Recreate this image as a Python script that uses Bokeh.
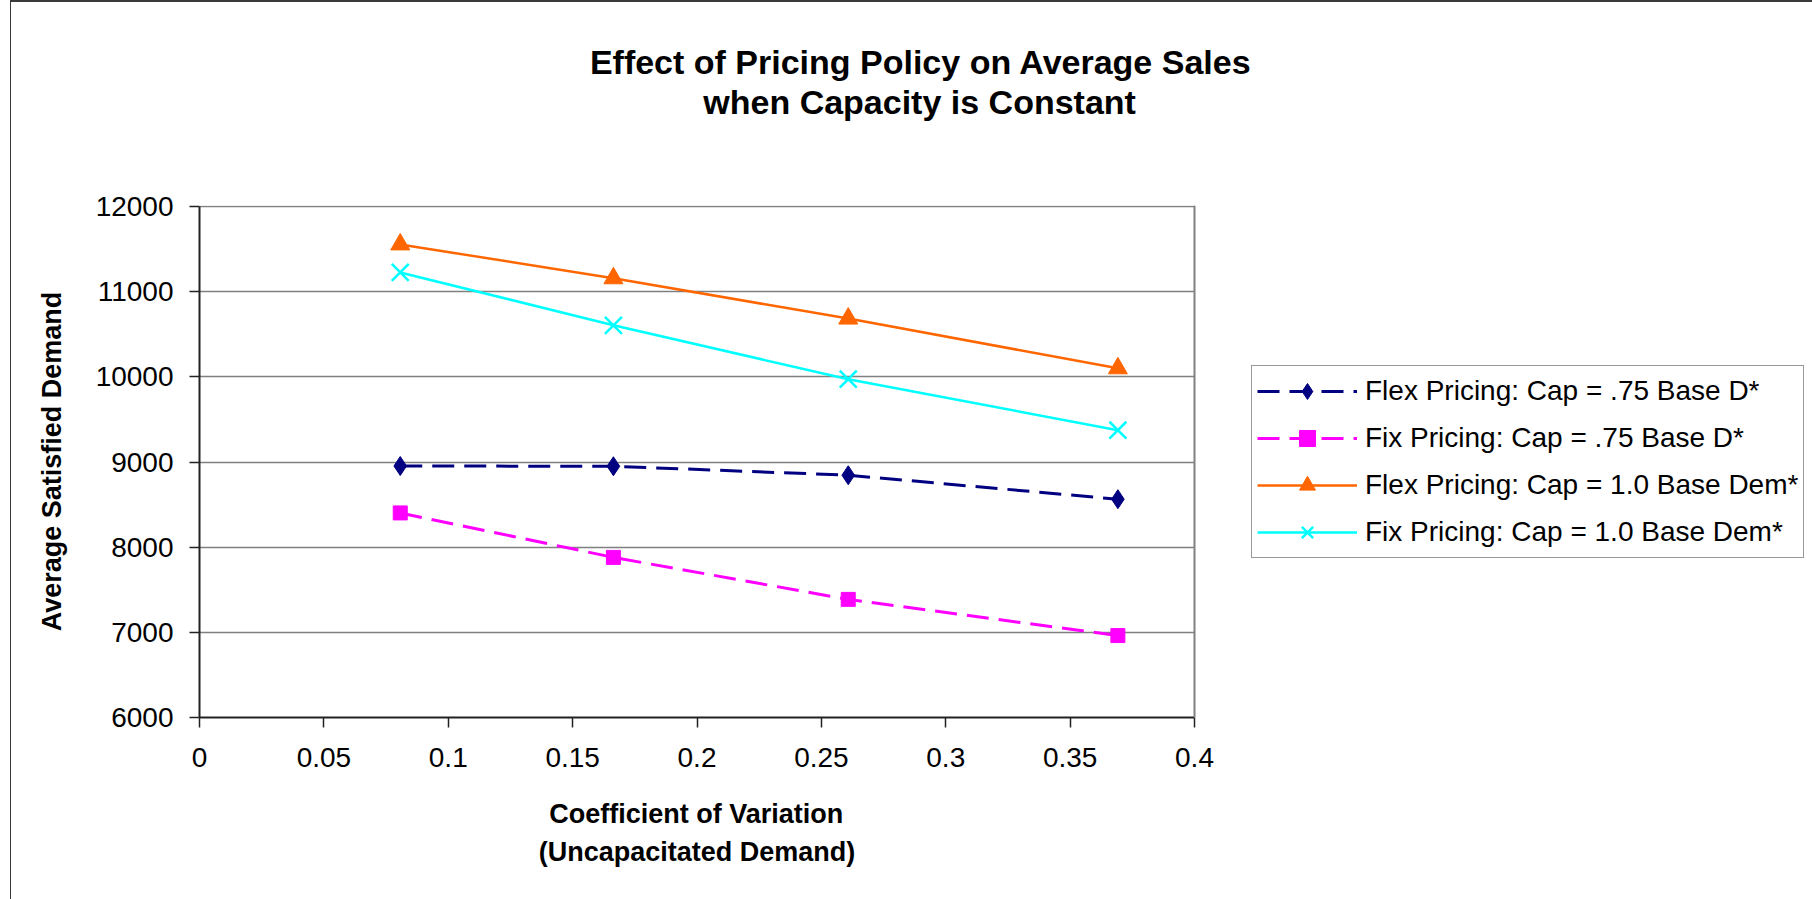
import math

from bokeh.plotting import figure
from bokeh.models import (Range1d, FixedTicker, Legend, LegendItem, Title,
                          Span, InlineStyleSheet)
from bokeh.embed import file_html
from bokeh.resources import INLINE

# ---- data -------------------------------------------------------------
cv = [0.0807, 0.1664, 0.2608, 0.3692]          # coefficient of variation

flex_075 = [8953, 8950, 8845, 8563]             # Flex Pricing, Cap = .75 Base D
fix_075 = [8402, 7880, 7387, 6962]              # Fix Pricing,  Cap = .75 Base D
flex_100 = [11555, 11157, 10684, 10100]         # Flex Pricing, Cap = 1.0 Base Dem
fix_100 = [11226, 10605, 9972, 9373]            # Fix Pricing,  Cap = 1.0 Base Dem

series_names = [
    "Flex Pricing: Cap = .75 Base D*",
    "Fix Pricing: Cap = .75 Base D*",
    "Flex Pricing: Cap = 1.0 Base Dem*",
    "Fix Pricing: Cap = 1.0 Base Dem*",
]

x_ticks = [0, 0.05, 0.1, 0.15, 0.2, 0.25, 0.3, 0.35, 0.4]
x_tick_labels = ["0", "0.05", "0.1", "0.15", "0.2", "0.25", "0.3", "0.35", "0.4"]
y_ticks = [6000, 7000, 8000, 9000, 10000, 11000, 12000]
y_tick_labels = ["6000", "7000", "8000", "9000", "10000", "11000", "12000"]

title_lines = ["Effect of Pricing Policy on Average Sales",
               "when Capacity is Constant"]
x_title_lines = ["Coefficient of Variation", "(Uncapacitated Demand)"]
y_title = "Average Satisfied Demand"

X_MIN, X_MAX = 0.0, 0.4
Y_MIN, Y_MAX = 6000, 12000

# ---- page geometry ----------------------------------------------------
W, H = 1812, 899
PL, PR, PT, PB = 199, 1194, 206, 717   # plot area edges (px from top-left)
FT = PT - 1                            # frame top: 1px of headroom for the top rule

FONT = "Liberation Sans"
TITLE_PX = 34
AXIS_TITLE_PX = 27
TITLE_CENTER = 921                     # horizontal centre of the chart title

# The frame runs to the right edge of the page so the legend can sit inside
# it; the scales are chosen so that X_MAX / Y_MAX land on the plot-area edges.
x_end = X_MIN + (X_MAX - X_MIN) * (W - PL) / (PR - PL)
y_end = Y_MIN + (Y_MAX - Y_MIN) * (PB - FT) / (PB - PT)

p = figure(width=W, height=H, output_backend="svg", toolbar_location=None,
           x_range=Range1d(X_MIN, x_end), y_range=Range1d(Y_MIN, y_end),
           min_border_left=PL, min_border_right=0,
           min_border_top=FT, min_border_bottom=H - PB)

p.background_fill_color = "white"
p.border_fill_color = "white"
p.outline_line_color = None

# thin rule along the top and left edge of the chart area
p.stylesheets = [InlineStyleSheet(css="""
:host { position: relative; }
:host::after {
  content: ""; position: absolute; left: 10px; top: 0px; right: 0px; bottom: 0px;
  border-top: 2px solid #3a3a3a; border-left: 1.5px solid #3a3a3a;
  pointer-events: none;
}
""")]

# axes
p.xaxis.ticker = FixedTicker(ticks=x_ticks)
p.xaxis.major_label_overrides = dict(zip(x_ticks, x_tick_labels))
p.xaxis.bounds = (X_MIN, X_MAX)
p.yaxis.ticker = FixedTicker(ticks=y_ticks)
p.yaxis.major_label_overrides = dict(zip(y_ticks, y_tick_labels))
p.yaxis.bounds = (Y_MIN, Y_MAX)
for ax in (p.xaxis, p.yaxis):
    ax.minor_tick_line_color = None
    ax.major_tick_in = 0
    ax.major_tick_out = 10
    ax.major_tick_line_color = "#222222"
    ax.major_tick_line_width = 1.5
    ax.axis_line_color = "#222222"
    ax.axis_line_width = 2
    ax.major_label_text_font = FONT
    ax.major_label_text_font_size = "28px"
    ax.major_label_text_color = "black"
    ax.axis_label_text_font = FONT
    ax.axis_label_text_font_size = f"{AXIS_TITLE_PX}px"
    ax.axis_label_text_font_style = "bold"
    ax.axis_label_text_color = "black"
p.xaxis.major_label_standoff = 20
p.yaxis.major_label_standoff = 16
p.yaxis.axis_label = y_title
p.yaxis.axis_label_standoff = 26

# horizontal grid confined to the plot area
p.xgrid.grid_line_color = None
ygrid = p.ygrid[0]
ygrid.grid_line_color = "#808080"
ygrid.grid_line_width = 1.5
if "cross_bounds" in ygrid.properties():
    ygrid.cross_bounds = (X_MIN, X_MAX)
else:
    ygrid.grid_line_color = None
    p.segment(x0=[X_MIN] * len(y_ticks), x1=[X_MAX] * len(y_ticks),
              y0=y_ticks, y1=y_ticks, line_color="#808080", line_width=1.5)

# right-hand border of the plot area
p.add_layout(Span(location=X_MAX, dimension="height",
                  line_color="#808080", line_width=2))

# series
r1l = p.line(cv, flex_075, line_color="#000080", line_width=3, line_dash="22 10")
r1m = p.scatter(cv, flex_075, marker="diamond", size=19,
                fill_color="#000080", line_color="#000080")
r2l = p.line(cv, fix_075, line_color="#FF00FF", line_width=3, line_dash="22 10")
r2m = p.scatter(cv, fix_075, marker="square", size=14,
                fill_color="#FF00FF", line_color="#FF00FF")
r3l = p.line(cv, flex_100, line_color="#FF6600", line_width=2.5)
r3m = p.scatter(cv, flex_100, marker="triangle", size=19,
                fill_color="#FF6600", line_color="#FF6600")
r4l = p.line(cv, fix_100, line_color="#00FFFF", line_width=2.5)
r4m = p.scatter(cv, fix_100, marker="x", size=24,
                line_color="#00FFFF", line_width=2.5)

legend = Legend(items=[
    LegendItem(label=series_names[0], renderers=[r1l, r1m]),
    LegendItem(label=series_names[1], renderers=[r2l, r2m]),
    LegendItem(label=series_names[2], renderers=[r3l, r3m]),
    LegendItem(label=series_names[3], renderers=[r4l, r4m]),
])
legend.location = (1251 - PL, PB - 558)
legend.glyph_width = 100
legend.glyph_height = 40
legend.label_height = 40
legend.spacing = 7
legend.padding = 5
legend.margin = 0
legend.label_standoff = 8
legend.label_text_font = FONT
legend.label_text_font_size = "28px"
legend.label_text_color = "black"
legend.border_line_color = "#333333"
legend.border_line_width = 1.5
legend.background_fill_color = "white"
legend.background_fill_alpha = 1.0
p.add_layout(legend, "center")

# Arial/Liberation Sans Bold advance widths (em) of the title strings.
title_em = [19.507, 12.836]
x_title_em = [10.946, 11.724]


def text_title(text, em, px, center, standoff=0):
    return Title(text=text, align="left", offset=center - PL - em * px / 2,
                 text_font=FONT, text_font_size=f"{px}px",
                 text_font_style="bold", text_color="black",
                 vertical_align="middle", standoff=standoff)


# chart title (two lines, stacked upward from the plot area)
p.add_layout(Title(text=" ", text_font_size="10px", standoff=71), "above")
p.add_layout(text_title(title_lines[1], title_em[1], TITLE_PX, TITLE_CENTER), "above")
p.add_layout(text_title(title_lines[0], title_em[0], TITLE_PX, TITLE_CENTER), "above")

# x-axis title (two lines, stacked downward below the tick labels)
x_center = (PL + PR) / 2
p.add_layout(Title(text=" ", text_font_size="10px", standoff=15), "below")
p.add_layout(text_title(x_title_lines[0], x_title_em[0], AXIS_TITLE_PX, x_center), "below")
p.add_layout(text_title(x_title_lines[1], x_title_em[1], AXIS_TITLE_PX, x_center,
                        standoff=13), "below")

open("out.html", "w").write(file_html(p, INLINE))
